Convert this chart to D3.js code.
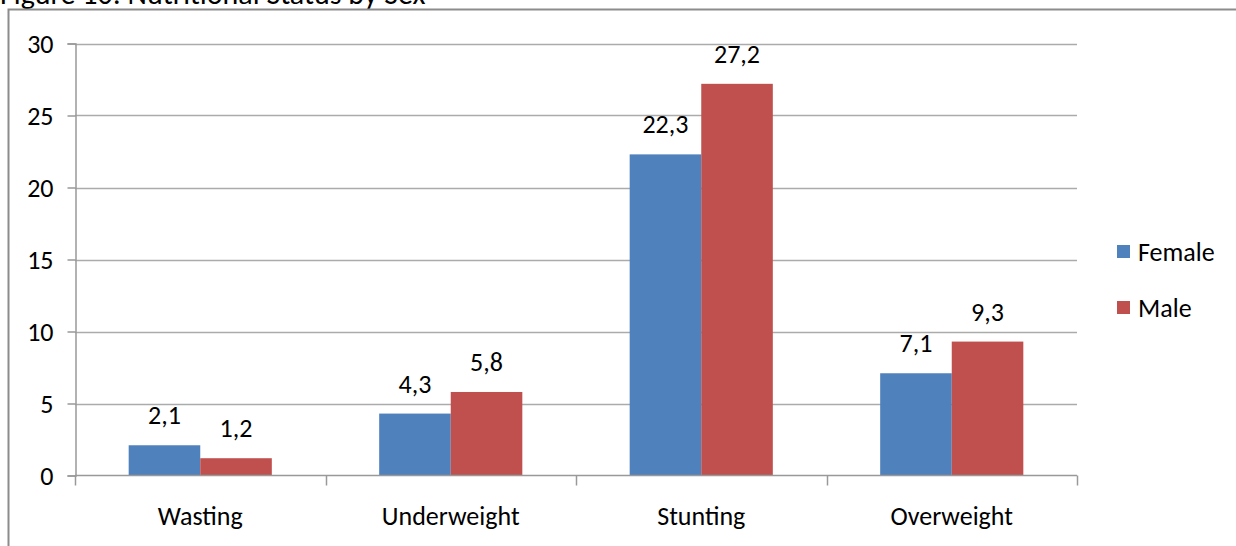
<!DOCTYPE html>
<html><head><meta charset="utf-8">
<script src="https://cdn.jsdelivr.net/npm/d3@7"></script>
<style>
html,body{margin:0;padding:0;background:#fff;overflow:hidden}
svg{display:block}
text{font-family:"Carlito","Liberation Sans Narrow","Open Sans",sans-serif;fill:#000}
</style></head>
<body>
<script>
const categories = ["Wasting", "Underweight", "Stunting", "Overweight"];
const seriesNames = ["Female", "Male"];
const female = [2.1, 4.3, 22.3, 7.1];
const male = [1.2, 5.8, 27.2, 9.3];
const yTicks = [0, 5, 10, 15, 20, 25, 30];
const colors = ["#4F81BD", "#C0504D"];
const title = "Figure 10: Nutritional Status by Sex";

const W = 1236, H = 546;
const svg = d3.select("body").append("svg").attr("width", W).attr("height", H);

const pL = 75, pR = 1077, pT = 43.5, pB = 475.5;
const fs = 26;
const x = d3.scaleBand().domain(categories).range([pL, pR]).paddingInner(0).paddingOuter(0);
const xs = d3.scaleBand().domain(seriesNames).range([0, x.bandwidth()]).paddingOuter(0.75).paddingInner(0);
const y = d3.scaleLinear().domain([0, 30]).range([pB, pT]);

// title (clipped at top, as in the reference)
svg.append("text").attr("x", 0).attr("y", 4).attr("font-size", 30).text(title);
// frame
svg.append("path").attr("d", `M8.5,${H} V9.5 H${W}`).attr("fill", "none").attr("stroke", "#8c8c8c").attr("stroke-width", 2);

// gridlines
svg.append("g").selectAll("line").data(yTicks.filter(d => d > 0)).join("line")
  .attr("x1", pL).attr("x2", pR)
  .attr("y1", d => Math.round(y(d)) + 0.5).attr("y2", d => Math.round(y(d)) + 0.5)
  .attr("stroke", "#ababab").attr("stroke-width", 1.5);

// y axis
const yAxis = svg.append("g").attr("transform", `translate(${pL + 0.5},0)`)
  .call(d3.axisLeft(y).tickValues(yTicks).tickSize(8).tickPadding(14));
yAxis.select(".domain").attr("stroke", "#999").attr("stroke-width", 1.5);
yAxis.selectAll(".tick line").attr("stroke", "#999").attr("stroke-width", 1.5);
yAxis.selectAll("text").attr("font-size", fs).attr("font-family", null).attr("fill", "#000").attr("dy", "0.34em");

// bars
const groups = svg.append("g").selectAll("g").data(categories).join("g")
  .attr("transform", d => `translate(${x(d)},0)`);
groups.selectAll("rect").data((d, i) => [
  {s: "Female", v: female[i]}, {s: "Male", v: male[i]}]).join("rect")
  .attr("x", d => xs(d.s)).attr("width", xs.bandwidth())
  .attr("y", d => y(d.v)).attr("height", d => y(0) - y(d.v))
  .attr("fill", (d, i) => colors[i]);
groups.selectAll("text").data((d, i) => [
  {s: "Female", v: female[i]}, {s: "Male", v: male[i]}]).join("text")
  .attr("x", d => xs(d.s) + xs.bandwidth() / 2).attr("y", d => y(d.v) - 21)
  .attr("text-anchor", "middle").attr("font-size", fs)
  .text(d => d.v.toFixed(1).replace(".", ","));

// x axis
const xAxisG = svg.append("g");
xAxisG.append("line").attr("x1", pL).attr("x2", pR).attr("y1", pB).attr("y2", pB)
  .attr("stroke", "#999").attr("stroke-width", 1.5);
const bounds = categories.map(c => x(c)).concat([pR]);
xAxisG.selectAll("line.t").data(bounds).join("line").attr("class", "t")
  .attr("x1", d => Math.round(d) + 0.5).attr("x2", d => Math.round(d) + 0.5)
  .attr("y1", pB).attr("y2", pB + 10).attr("stroke", "#999").attr("stroke-width", 1.5);
xAxisG.selectAll("text.c").data(categories).join("text").attr("class", "c")
  .attr("x", d => x(d) + x.bandwidth() / 2).attr("y", 525)
  .attr("text-anchor", "middle").attr("font-size", fs).text(d => d);

// legend
const leg = svg.append("g").selectAll("g").data(seriesNames).join("g")
  .attr("transform", (d, i) => `translate(1117,${245 + i * 56})`);
leg.append("rect").attr("width", 13).attr("height", 13).attr("fill", (d, i) => colors[i]);
leg.append("text").attr("x", 21).attr("y", 15.5).attr("font-size", fs).text(d => d);
</script>
</body></html>
